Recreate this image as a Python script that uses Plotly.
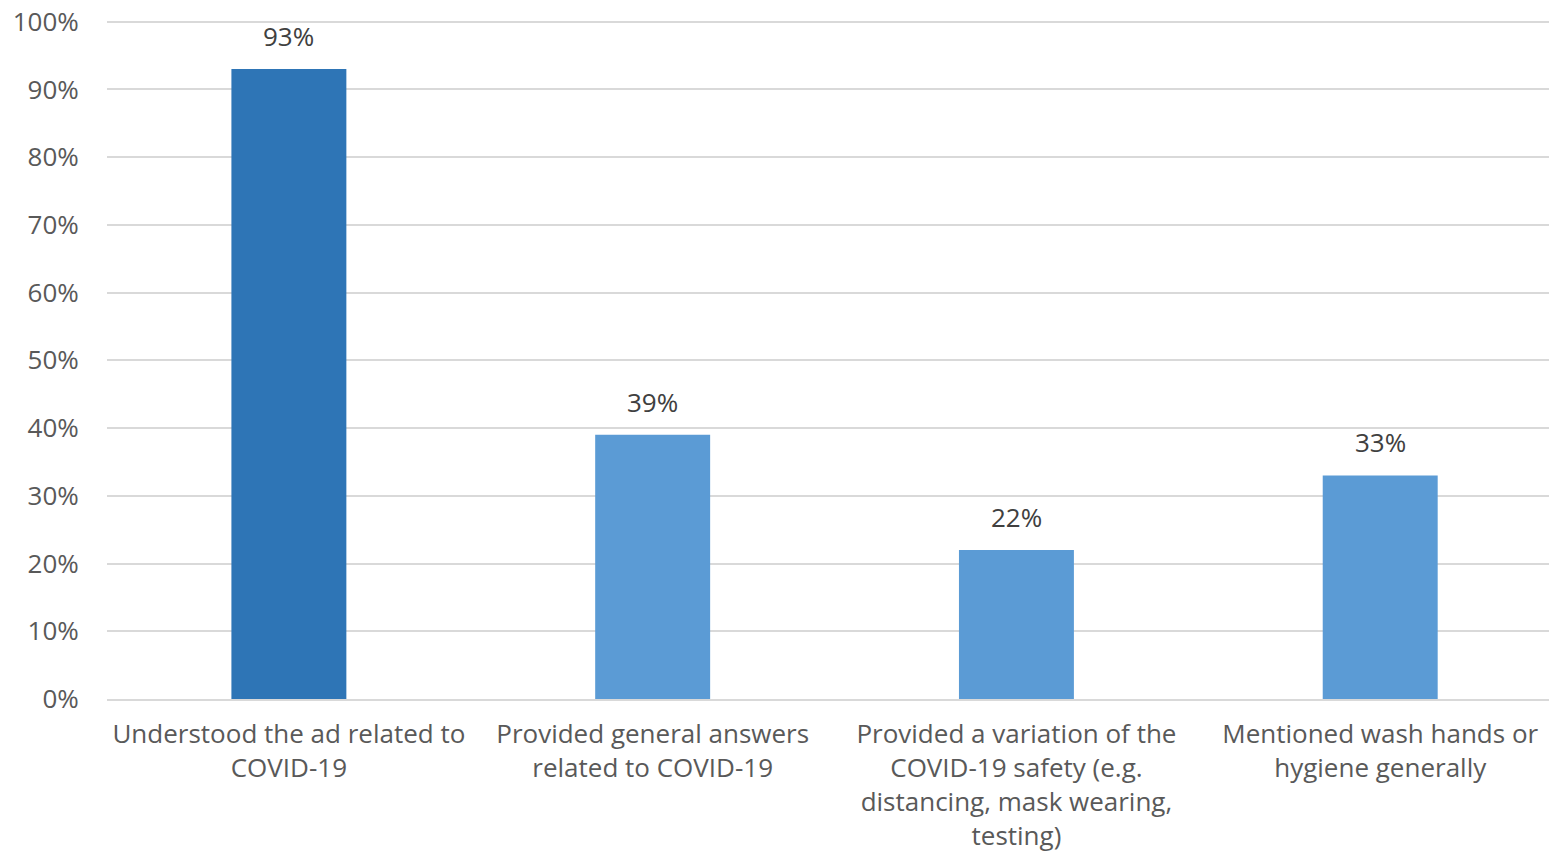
import plotly.graph_objects as go

categories = [
    "Understood the ad related to<br>COVID-19",
    "Provided general answers<br>related to COVID-19",
    "Provided a variation of the<br>COVID-19 safety (e.g.<br>distancing, mask wearing,<br>testing)",
    "Mentioned wash hands or<br>hygiene generally",
]
values = [93, 39, 22, 33]
bar_colors = ["#2E75B6", "#5B9BD5", "#5B9BD5", "#5B9BD5"]
tick_vals = [0, 10, 20, 30, 40, 50, 60, 70, 80, 90, 100]
tick_text = [f"{v}%" for v in tick_vals]

FONT = "Open Sans"
FS = 26

fig = go.Figure(go.Bar(
    x=categories,
    y=values,
    marker=dict(color=bar_colors, line=dict(width=0)),
    width=0.316,
    cliponaxis=False,
    hoverinfo="skip",
))

for c, v in zip(categories, values):
    fig.add_annotation(
        x=c, y=v, text=f"{v}%", showarrow=False,
        yanchor="bottom", yshift=13,
        font=dict(family=FONT, size=FS, color="#404040"),
    )

fig.update_layout(
    width=1549, height=861,
    margin=dict(l=107, r=0, t=20, b=162),
    paper_bgcolor="white", plot_bgcolor="white",
    font=dict(family=FONT, size=FS, color="#595959"),
    showlegend=False,
)
fig.update_yaxes(
    range=[0, 100.25], tickvals=tick_vals, ticktext=tick_text,
    showgrid=True, gridcolor="#D9D9D9", gridwidth=2,
    zeroline=False, showline=False,
    ticks="outside", ticklen=22, tickcolor="rgba(0,0,0,0)",
    tickfont=dict(family=FONT, size=FS, color="#595959"),
)
fig.update_xaxes(
    range=[-0.5, 3.464],
    showline=True, linecolor="#D9D9D9", linewidth=2,
    ticks="outside", ticklen=11, tickcolor="rgba(0,0,0,0)",
    tickfont=dict(family=FONT, size=FS, color="#595959"),
    tickangle=0,
)

fig.write_html("out.html")
